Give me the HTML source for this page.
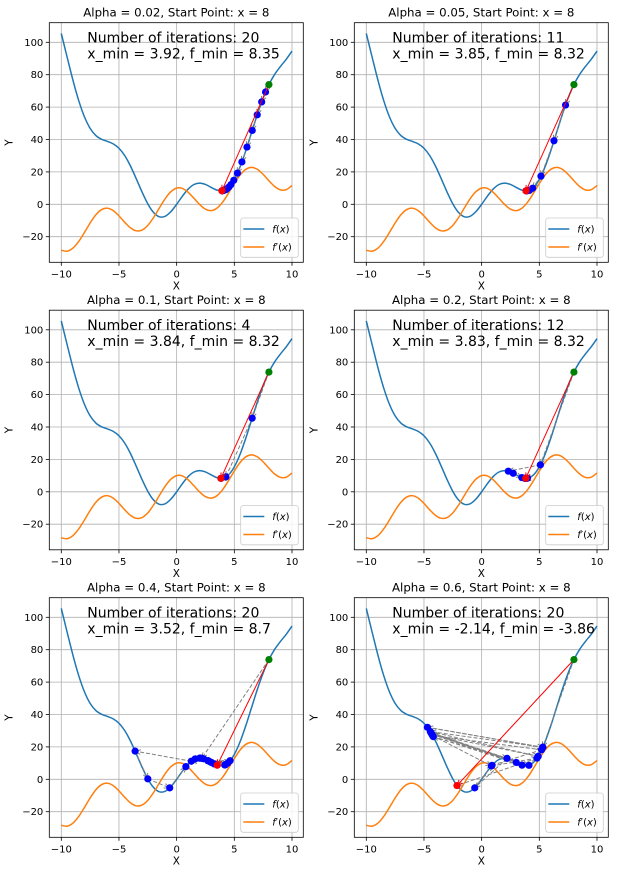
<!DOCTYPE html>
<html><head><meta charset="utf-8"><style>
html,body{margin:0;padding:0;background:#fff;}
svg{display:block;font-family:"DejaVu Sans","Liberation Sans",sans-serif;}
</style></head><body>
<svg id="fig" width="617" height="876" viewBox="0 0 617 876"></svg>
<script>
const xGrid = [-10,-9.5,-9,-8.5,-8,-7.5,-7,-6.5,-6,-5.5,-5,-4.5,-4,-3.5,-3,-2.5,-2,-1.5,-1,-0.5,0,0.5,1,1.5,2,2.5,3,3.5,4,4.5,5,5.5,6,6.5,7,7.5,8,8.5,9,9.5,10];
const fVals = [105.44,91.00,76.88,64.26,54.11,46.87,42.43,40.10,38.79,37.31,34.59,30.03,23.57,15.76,7.59,0.26,-5.09,-7.72,-7.41,-4.54,0,5.04,9.41,12.22,13.09,12.24,10.41,8.74,8.43,10.47,15.41,23.19,33.21,44.40,55.57,65.63,73.89,80.24,85.12,89.50,94.56];
const dfVals = [-28.39,-28.97,-27.11,-23.02,-17.46,-11.53,-6.46,-3.23,-2.40,-3.91,-7.16,-11.11,-14.54,-16.37,-15.90,-13.01,-8.16,-2.29,3.40,7.78,10,9.78,7.40,3.71,-0.16,-3.01,-3.90,-2.37,1.46,6.89,12.84,18.09,21.60,22.77,21.54,18.47,14.54,10.98,8.89,9.03,11.61];
const alphas = ["0.02","0.05","0.1","0.2","0.4","0.6"];
const iterCounts = [20,11,4,12,20,20];
const xMins = ["3.92","3.85","3.84","3.83","3.52","-2.14"];
const fMins = ["8.35","8.32","8.32","8.32","8.7","-3.86"];
const path1X = [8,7.709,7.372,6.984,6.552,6.097,5.657,5.269,4.953,4.707,4.520,4.377,4.268,4.184,4.117,4.064,4.022,3.988,3.961,3.939,3.921];
const path1Y = [73.89,69.32,63.21,55.23,45.59,35.32,26.14,19.27,14.82,12.16,10.61,9.71,9.19,8.87,8.67,8.55,8.46,8.40,8.38,8.36,8.34];
const path2X = [8,7.273,6.271,5.144,4.420,4.122,3.988,3.920,3.884,3.864,3.853,3.847];
const path2Y = [73.89,61.26,39.21,17.38,9.96,8.68,8.40,8.34,8.33,8.31,8.32,8.32];
const path3X = [8,6.546,4.271,3.845,3.839];
const path3Y = [73.89,45.45,9.20,8.32,8.32];
const path4X = [8,5.092,2.313,2.738,3.481,3.973,3.731,3.895,3.791,3.865,3.813,3.849,3.823];
const path4Y = [73.89,16.64,12.72,11.43,8.79,8.40,8.35,8.32,8.33,8.32,8.32,8.32,8.32];
const path5X = [8,2.18,2.74,4.23,2.71,4.18,2.87,4.43,2.0,2.07,2.34,3.25,4.63,1.27,-3.6,-2.5,-0.6,0.8,1.6,3.0,3.52];
const path5Y = [73.89,12.95,11.42,9.04,11.53,8.81,10.91,10.01,13.09,13.06,12.66,9.48,11.47,11.16,17.39,0.26,-5.29,7.81,12.56,10.41,8.69];
const path6X = [8,5.3,-4.7,5.3,-4.45,4.9,-4.3,4.1,-4.2,3.5,-4.35,3.0,-4.4,2.2,-0.6,0.9,5.2,-4.25,0.85,4.8,-2.14];
const path6Y = [73.89,19.77,32.09,19.77,29.46,14.19,27.65,8.63,26.36,8.74,28.27,10.41,28.88,12.93,-5.29,8.64,18.21,27.01,8.23,13.08,-3.86];
const pathsX = [path1X,path2X,path3X,path4X,path5X,path6X];
const pathsY = [path1Y,path2Y,path3Y,path4Y,path5Y,path6Y];
const xTicks = [-10,-5,0,5,10];
const yTicks = [-20,0,20,40,60,80,100];
const tickLabels = ["−20","0","20","40","60","80","100"];
const xTickLabels = ["−10","−5","0","5","10"];

const NS = "http://www.w3.org/2000/svg";
const fig = document.getElementById('fig');
function mk(tag, attrs, parent){const e=document.createElementNS(NS,tag);for(const k in attrs)e.setAttribute(k,attrs[k]);(parent||fig).appendChild(e);return e;}

const colOff=[0,305], rowOff=[0,287.5,575];
const BL=49.3, BT=22.7, BW=254, BH=239.6;
const XMIN=-11.04, XMAX=10.98, YMIN=-35.8, YMAX=112.1;

function smoothPath(pts){
  let d="M"+pts[0][0].toFixed(2)+","+pts[0][1].toFixed(2);
  for(let i=0;i<pts.length-1;i++){
    const p0=pts[Math.max(0,i-1)],p1=pts[i],p2=pts[i+1],p3=pts[Math.min(pts.length-1,i+2)];
    const c1=[p1[0]+(p2[0]-p0[0])/6,p1[1]+(p2[1]-p0[1])/6];
    const c2=[p2[0]-(p3[0]-p1[0])/6,p2[1]-(p3[1]-p1[1])/6];
    d+=" C"+c1[0].toFixed(2)+","+c1[1].toFixed(2)+" "+c2[0].toFixed(2)+","+c2[1].toFixed(2)+" "+p2[0].toFixed(2)+","+p2[1].toFixed(2);
  }
  return d;
}
function arrow(g,x1,y1,x2,y2,color,dash,w){
  const l=mk('line',{x1:x1,y1:y1,x2:x2,y2:y2,stroke:color,'stroke-width':w,'stroke-dasharray':dash||'none'},g);
  
  
  const ang=Math.atan2(y2-y1,x2-x1), L=6, a=0.4;
  const p=[[x2-L*Math.cos(ang-a),y2-L*Math.sin(ang-a)],[x2,y2],[x2-L*Math.cos(ang+a),y2-L*Math.sin(ang+a)]];
  const h=mk('polyline',{points:p.map(q=>q.join(',')).join(' '),fill:'none',stroke:color,'stroke-width':w},g);
  
  
}

for(let k=0;k<6;k++){
  const ox=colOff[k%2], oy=rowOff[Math.floor(k/2)];
  const L=BL+ox, T=BT+oy;
  const sx=v=>L+(v-XMIN)/(XMAX-XMIN)*BW;
  const sy=v=>T+(YMAX-v)/(YMAX-YMIN)*BH;
  const g=mk('g',{});
  
  
  const clipId='clip'+k;
  const cp=mk('clipPath',{id:clipId},g); mk('rect',{x:L,y:T,width:BW,height:BH},cp);
  xTicks.forEach((t,i)=>{
    const gl=mk('line',{x1:sx(t),x2:sx(t),y1:T,y2:T+BH,stroke:'#b0b0b0','stroke-width':0.8},g);
    
    
    mk('line',{x1:sx(t),x2:sx(t),y1:T+BH,y2:T+BH+3.5,stroke:'#000','stroke-width':0.8},g);
    const tl=mk('text',{x:sx(t),y:T+BH+15,'font-size':10,'text-anchor':'middle',fill:'#000'},g);
    tl.textContent=xTickLabels[i];
    
    
  });
  yTicks.forEach((t,i)=>{
    const gl=mk('line',{x1:L,x2:L+BW,y1:sy(t),y2:sy(t),stroke:'#b0b0b0','stroke-width':0.8},g);
    
    
    mk('line',{x1:L-3.5,x2:L,y1:sy(t),y2:sy(t),stroke:'#000','stroke-width':0.8},g);
    const tl=mk('text',{x:L-6,y:sy(t)+3.5,'font-size':10,'text-anchor':'end',fill:'#000'},g);
    tl.textContent=tickLabels[i];
    
    
  });
  const cg=mk('g',{'clip-path':'url(#'+clipId+')'},g);
  const fp=mk('path',{d:smoothPath(xGrid.map((x,i)=>[sx(x),sy(fVals[i])])),fill:'none',stroke:'#1f77b4','stroke-width':1.5},cg);
  
  
  const dp=mk('path',{d:smoothPath(xGrid.map((x,i)=>[sx(x),sy(dfVals[i])])),fill:'none',stroke:'#ff7f0e','stroke-width':1.5},cg);
  
  
  const px=pathsX[k], py=pathsY[k], n=px.length;
  for(let i=0;i<n-1;i++) arrow(cg,sx(px[i]),sy(py[i]),sx(px[i+1]),sy(py[i+1]),'#808080','4,2',1);
  for(let i=1;i<n-1;i++){
    const c=mk('circle',{cx:sx(px[i]),cy:sy(py[i]),r:3.6,fill:'#0000ff'},cg);
    
    
  }
  arrow(cg,sx(px[0]),sy(py[0]),sx(px[n-1]),sy(py[n-1]),'#ff0000',null,1);
  const s=mk('circle',{cx:sx(px[0]),cy:sy(py[0]),r:3.6,fill:'#008000'},cg);
  
  
  const e=mk('circle',{cx:sx(px[n-1]),cy:sy(py[n-1]),r:3.6,fill:'#ff0000'},cg);
  
  
  const fr=mk('rect',{x:L,y:T,width:BW,height:BH,fill:'none',stroke:'#000','stroke-width':0.8},g);
  
  
  const ti=mk('text',{x:L+BW/2,y:T-6,'font-size':11.8,'text-anchor':'middle',fill:'#000'},g);
  ti.textContent='Alpha = '+alphas[k]+', Start Point: x = 8';
  
  
  const xl=mk('text',{x:L+BW/2,y:T+BH+27,'font-size':10.5,'text-anchor':'middle',fill:'#000'},g);
  xl.textContent='X';
  
  
  const yl=mk('text',{x:0,y:0,'font-size':10.5,'text-anchor':'middle',fill:'#000',transform:'translate('+(L-37)+','+(T+BH/2)+') rotate(-90)'},g);
  yl.textContent='Y';
  
  
  const a1=mk('text',{x:L+38,y:T+20,'font-size':14,fill:'#000'},g);
  a1.textContent='Number of iterations: '+iterCounts[k];
  
  
  const a2=mk('text',{x:L+38,y:T+36,'font-size':14,fill:'#000'},g);
  a2.textContent='x_min = '+xMins[k]+', f_min = '+fMins[k];
  
  
  const lg=mk('g',{},g);
  
  
  mk('rect',{x:L+191.4,y:T+195.3,width:57.6,height:39.3,rx:2.5,fill:'#fff','fill-opacity':0.85,stroke:'#cccccc','stroke-width':0.8},lg);
  mk('line',{x1:L+194,x2:L+215,y1:T+206.3,y2:T+206.3,stroke:'#1f77b4','stroke-width':1.5},lg);
  mk('line',{x1:L+194,x2:L+215,y1:T+224.3,y2:T+224.3,stroke:'#ff7f0e','stroke-width':1.5},lg);
  const t1=mk('text',{x:L+223,y:T+210,'font-size':10,fill:'#000'},lg);
  t1.innerHTML='<tspan font-style="italic">f</tspan>(<tspan font-style="italic">x</tspan>)';
  
  
  const t2=mk('text',{x:L+223,y:T+228,'font-size':10,fill:'#000'},lg);
  t2.innerHTML='<tspan font-style="italic">f</tspan>′(<tspan font-style="italic">x</tspan>)';
  
  
}
</script>
</body></html>
